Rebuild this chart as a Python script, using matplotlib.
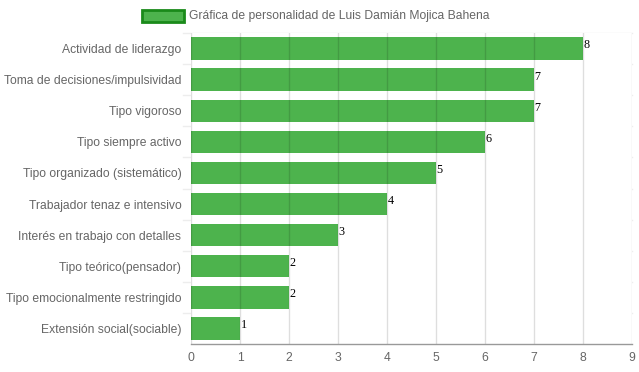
import matplotlib
matplotlib.use("Agg")
import matplotlib.pyplot as plt
from matplotlib.patches import Rectangle
from matplotlib.lines import Line2D

categories = ["Actividad de liderazgo", "Toma de decisiones/impulsividad", "Tipo vigoroso",
              "Tipo siempre activo", "Tipo organizado (sistemático)", "Trabajador tenaz e intensivo",
              "Interés en trabajo con detalles", "Tipo teórico(pensador)",
              "Tipo emocionalmente restringido", "Extensión social(sociable)"]
values = [8, 7, 7, 6, 5, 4, 3, 2, 2, 1]
xticks = list(range(0, 10))
legend_label = "Gráfica de personalidad de Luis Damián Mojica Bahena"

W, H = 639, 372
fig = plt.figure(figsize=(W / 100, H / 100), dpi=100)
L, R, T, B = 191, 632, 33, 344
ax = fig.add_axes([L / W, 1 - B / H, (R - L) / W, (B - T) / H])

n = len(categories)
ypos = list(range(n))
ax.barh(ypos, values, height=0.72, color="#4db34d", edgecolor="none", zorder=1)
ax.set_xlim(0, 9)
ax.set_ylim(n - 0.5, -0.5)

# grid
for x in xticks:
    ax.axvline(x, color=(0, 0, 0, 0.13), lw=1, zorder=2)
for i in range(n):
    yf = 1 - (T + i * (B - T) / n) / H
    fig.add_artist(Line2D([(L - 8) / W, R / W], [yf, yf], transform=fig.transFigure,
                          color=(0, 0, 0, 0.07), lw=1, zorder=0))

for s in ["top", "right"]:
    ax.spines[s].set_visible(False)
ax.spines["left"].set_visible(False)
ax.spines["bottom"].set_color("#999999")
ax.spines["bottom"].set_linewidth(1)

ax.set_xticks(xticks)
ax.set_yticks(ypos)
ax.set_yticklabels(categories)
ax.tick_params(axis="x", length=0, labelsize=8.7, labelcolor="#666666", pad=6)
ax.tick_params(axis="y", length=0, labelsize=8.7, labelcolor="#666666", pad=7)
for lab in ax.get_xticklabels() + ax.get_yticklabels():
    lab.set_fontfamily("Liberation Sans")

for y, v in zip(ypos, values):
    ax.text(v + 0.01, y - 0.1, str(v), ha="left", va="center", fontsize=8.7,
            family="Liberation Serif", color="black", zorder=3)

# legend
fig.patches.append(Rectangle((142 / W, 1 - 22 / H), 42 / W, 12 / H, transform=fig.transFigure,
                             facecolor="#4db34d", edgecolor="#1a8a1a", lw=2))
fig.text(189 / W, 1 - 15.5 / H, legend_label, ha="left", va="center", fontsize=8.7,
         family="Liberation Sans", color="#666666")

fig.savefig("out.png", dpi=100)
